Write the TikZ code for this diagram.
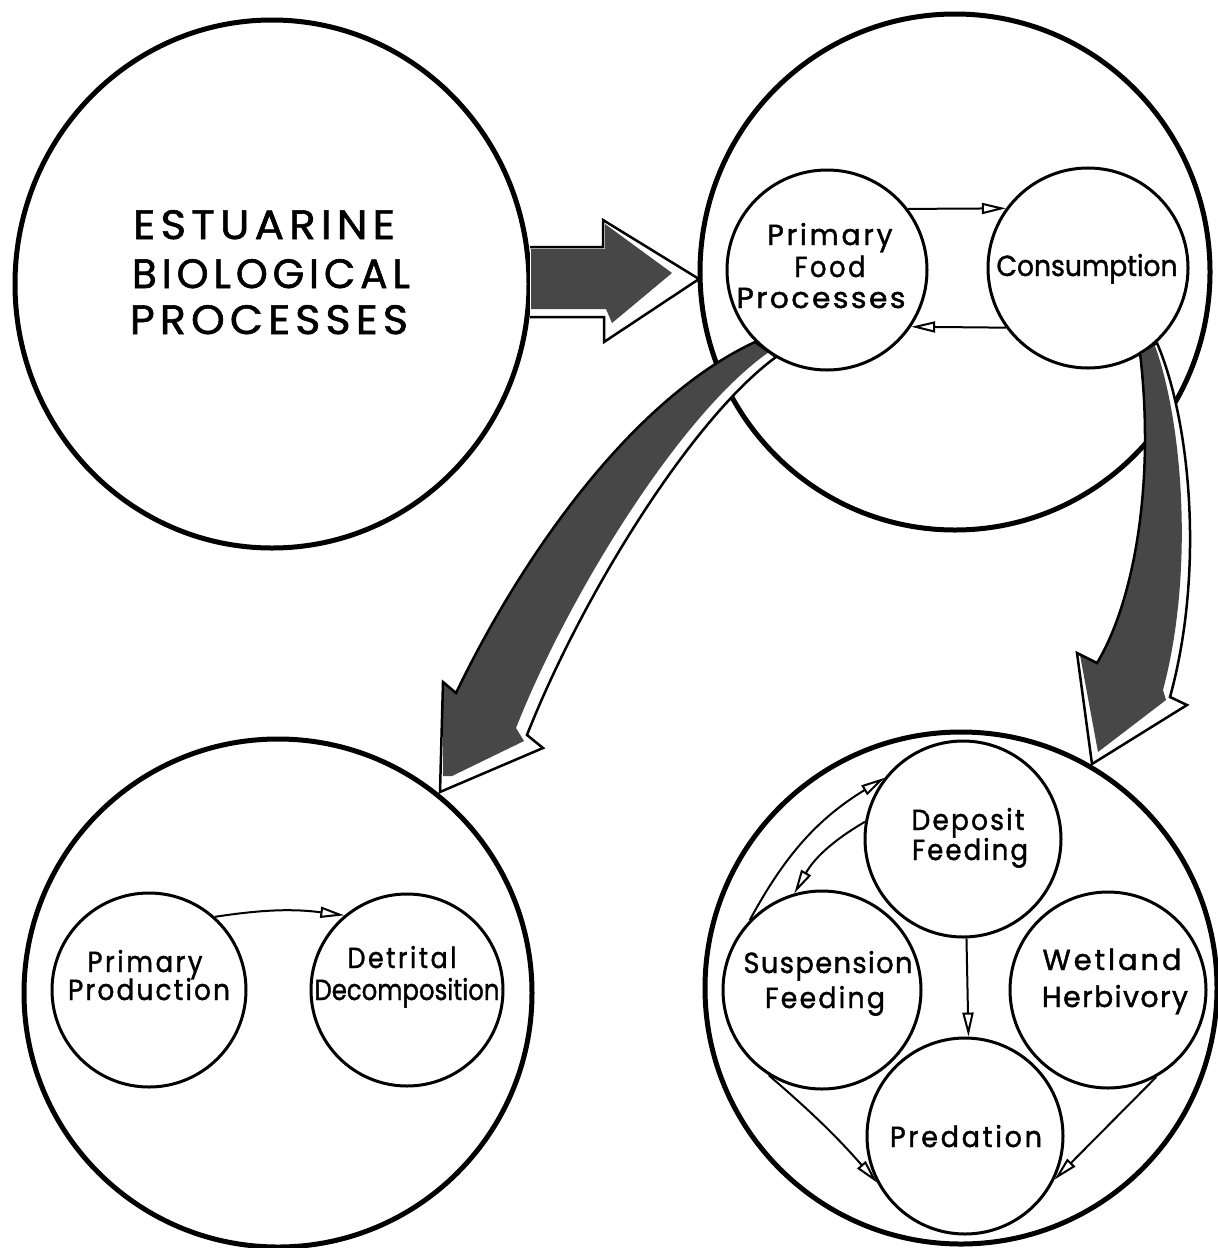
\documentclass[tikz,border=0pt]{standalone}
\usepackage{fontspec}
\usepackage{graphicx}
\setmainfont{Poppins}[FakeBold=1.4]
\usetikzlibrary{arrows.meta,shapes.geometric}
\newcommand\lw[3]{\resizebox{#1pt}{\height}{\addfontfeature{LetterSpace=#2}#3}}
\tikzset{
  bigc/.style={draw, line width=5pt, ellipse, inner sep=0pt},
  smallc/.style={draw, line width=3pt, circle, inner sep=0pt},
  lbl/.style={anchor=base, inner sep=0pt, font=\fontsize{29}{34}\selectfont},
  biglbl/.style={anchor=base, inner sep=0pt, font=\fontsize{41}{46}\selectfont},
  flow/.style={line width=2pt, -{Triangle[open, length=24pt, width=11pt]}},
  bigarrow/.style={line width=2.5pt, line join=miter},
  stip/.style={fill=black!72},
}
\begin{document}
\begin{tikzpicture}[x=1pt,y=-1pt]
\useasboundingbox (0,0) rectangle (1218,1248);
% big circles
\node[bigc, minimum width=514pt, minimum height=528pt] (est) at (272,284) {};
\node[bigc, minimum width=510pt, minimum height=516pt] (cyc) at (955,272) {};
\node[bigc, minimum width=508pt, minimum height=508pt] (prod) at (278,993) {};
\node[bigc, minimum width=512pt, minimum height=512pt] (feed) at (961,988) {};
% inner circles
\node[smallc, minimum size=200pt] (pf) at (827,270) {};
\node[smallc, minimum size=200pt] (cons) at (1088,268) {};
\node[smallc, minimum size=194pt] (pp) at (149,990) {};
\node[smallc, minimum size=192pt] (dd) at (407,990) {};
\node[smallc, minimum size=196pt] (df) at (963,839) {};
\node[smallc, minimum size=198pt] (sf) at (822,990) {};
\node[smallc, minimum size=196pt] (wh) at (1108,990) {};
\node[smallc, minimum size=196pt] (pred) at (965,1136) {};
% big horizontal arrow
\fill[white] (530,247) -- (603,247) -- (603,220) -- (699,279) -- (604,342) -- (604,317) -- (530,317) -- cycle;
\begin{scope}
\clip (530,247) -- (603,247) -- (603,220) -- (699,279) -- (604,342) -- (604,317) -- (530,317) -- cycle;
\fill[stip] (531,249) -- (605,249) -- (605,224) -- (672,273) -- (612,323) -- (606,309) -- (531,309) -- cycle;
\end{scope}
\draw[bigarrow] (530,247) -- (603,247) -- (603,220) -- (699,279) -- (604,342) -- (604,317) -- (530,317);
% left curved arrow
\fill[white] (755,342) -- (776,357) .. controls (690,420) and (580,600) .. (527,735) -- (543,748) -- (440,792) -- (443,682) -- (456,693) .. controls (520,560) and (630,400) .. (755,342) -- cycle;
\begin{scope}
\clip (755,342) -- (776,357) .. controls (690,420) and (580,600) .. (527,735) -- (543,748) -- (440,792) -- (443,682) -- (456,693) .. controls (520,560) and (630,400) .. (755,342) -- cycle;
\fill[stip] (755,342) -- (769,352) .. controls (680,414) and (568,596) .. (516,728) -- (524,741) -- (452,776) -- (443,776) -- (443,682) -- (456,693) .. controls (520,560) and (630,400) .. (755,342) -- cycle;
\end{scope}
\draw[bigarrow] (755,342) -- (776,357) .. controls (690,420) and (580,600) .. (527,735) -- (543,748) -- (440,792) -- (443,682) -- (456,693) .. controls (520,560) and (630,400) .. (755,342) -- cycle;
% right curved arrow
\fill[white] (1140,353) -- (1157,343) .. controls (1190,420) and (1205,570) .. (1170,697) -- (1187,705) -- (1092,764) -- (1077,653) -- (1097,663) .. controls (1135,600) and (1155,480) .. (1140,353) -- cycle;
\begin{scope}
\clip (1140,353) -- (1157,343) .. controls (1190,420) and (1205,570) .. (1170,697) -- (1187,705) -- (1092,764) -- (1077,653) -- (1097,663) .. controls (1135,600) and (1155,480) .. (1140,353) -- cycle;
\fill[stip] (1140,353) -- (1155,346) .. controls (1182,420) and (1195,570) .. (1163,690) -- (1166,700) -- (1098,752) -- (1080,655) -- (1097,663) .. controls (1135,600) and (1155,480) .. (1140,353) -- cycle;
\end{scope}
\draw[bigarrow] (1140,353) -- (1157,343) .. controls (1190,420) and (1205,570) .. (1170,697) -- (1187,705) -- (1092,764) -- (1077,653) -- (1097,663) .. controls (1135,600) and (1155,480) .. (1140,353) -- cycle;
% small arrows
\draw[flow] (pf.37) -- (cons.144.4);
\draw[flow] (cons.216) -- (pf.-34.6);
\draw[flow] (pp.48) to[bend left=8] (dd.130);
\draw[flow] (df.-88) -- (pred.88);
\draw[flow] (sf.136) to[bend left=15] (df.142);
\draw[flow] (df.170) to[bend right=15] (sf.106);
\draw[flow] (sf.238) to[bend left=4] (pred.208);
\draw[flow] (wh.-61) -- (pred.-26);
% labels
\node[biglbl] (t1) at (264,239) {\lw{262}{12}{ESTUARINE}};
\node[biglbl] (t2) at (271,288) {\lw{278}{12}{BIOLOGICAL}};
\node[biglbl] (t3) at (269,334) {\lw{278}{12}{PROCESSES}};
\node[lbl] (pf1) at (830,245) {\lw{125}{10}{Primary}};
\node[lbl] (pf2) at (830,277) {\lw{71}{10}{Food}};
\node[lbl] (pf3) at (821,308) {\lw{169}{8}{Processes}};
\node[lbl] (c1) at (1087,276) {\lw{181}{0}{Consumption}};
\node[lbl] (pp1) at (145,972) {\lw{115}{10}{Primary}};
\node[lbl] (pp2) at (149,1000) {\lw{162}{8}{Production}};
\node[lbl] (dd1) at (402,968) {\lw{109}{10}{Detrital}};
\node[lbl] (dd2) at (407,1000) {\lw{185}{0}{Decomposition}};
\node[lbl] (df1) at (968,830) {\lw{113}{8}{Deposit}};
\node[lbl] (df2) at (970,860) {\lw{116}{8}{Feeding}};
\node[lbl] (sf1) at (828,973) {\lw{169}{5}{Suspension}};
\node[lbl] (sf2) at (825,1008) {\lw{120}{8}{Feeding}};
\node[lbl] (wh1) at (1112,970) {\lw{139}{10}{Wetland}};
\node[lbl] (wh2) at (1115,1007) {\lw{146}{5}{Herbivory}};
\node[lbl] (pr1) at (966,1147) {\lw{152}{10}{Predation}};
\end{tikzpicture}
\end{document}
